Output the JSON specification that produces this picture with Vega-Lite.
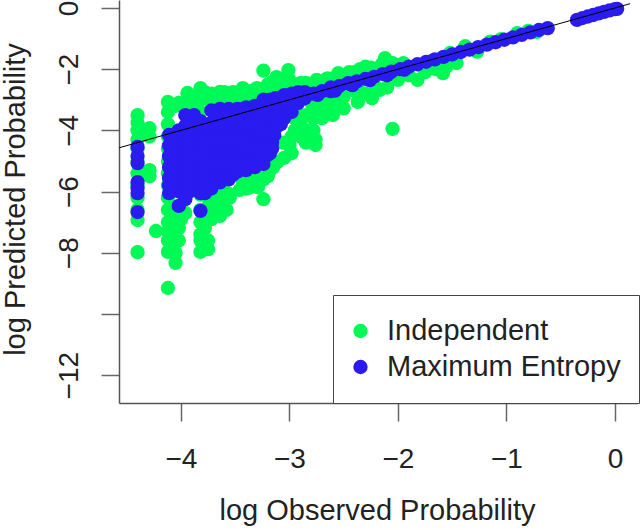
{"$schema":"https://vega.github.io/schema/vega-lite/v6.json","width":518,"height":403,"autosize":{"type":"none"},"padding":{"left":119,"top":0,"right":3,"bottom":127},"background":"white","view":{"stroke":null},"config":{"font":"Liberation Sans"},"layer":[{"data":{"values":[
{"s":"Independent","x":-4.4,"y":-3.5},{"s":"Independent","x":-4.4,"y":-3.75},{"s":"Independent","x":-4.4,"y":-4.0},{"s":"Independent","x":-4.4,"y":-4.3},{"s":"Independent","x":-4.4,"y":-4.6},{"s":"Independent","x":-4.4,"y":-5.0},{"s":"Independent","x":-4.4,"y":-5.4},{"s":"Independent","x":-4.4,"y":-5.8},{"s":"Independent","x":-4.4,"y":-6.2},{"s":"Independent","x":-4.4,"y":-6.6},{"s":"Independent","x":-4.4,"y":-6.93},{"s":"Independent","x":-4.4,"y":-7.98},
{"s":"Independent","x":-4.29,"y":-3.93},{"s":"Independent","x":-4.29,"y":-4.2},{"s":"Independent","x":-4.29,"y":-5.3},{"s":"Independent","x":-4.29,"y":-5.5},{"s":"Independent","x":-4.23,"y":-7.29},
{"s":"Independent","x":-4.12,"y":-3.07},{"s":"Independent","x":-4.12,"y":-3.4},{"s":"Independent","x":-4.12,"y":-3.8},{"s":"Independent","x":-4.12,"y":-4.2},{"s":"Independent","x":-4.12,"y":-4.6},{"s":"Independent","x":-4.12,"y":-5},{"s":"Independent","x":-4.12,"y":-5.4},{"s":"Independent","x":-4.12,"y":-5.8},{"s":"Independent","x":-4.12,"y":-6.2},{"s":"Independent","x":-4.12,"y":-6.6},{"s":"Independent","x":-4.12,"y":-7},{"s":"Independent","x":-4.12,"y":-7.3},{"s":"Independent","x":-4.12,"y":-7.6},{"s":"Independent","x":-4.12,"y":-7.97},{"s":"Independent","x":-4.12,"y":-9.15},
{"s":"Independent","x":-4.05,"y":-3.2},{"s":"Independent","x":-4.05,"y":-6.5},{"s":"Independent","x":-4.05,"y":-6.9},{"s":"Independent","x":-4.05,"y":-7.2},{"s":"Independent","x":-4.05,"y":-7.6},{"s":"Independent","x":-4.05,"y":-8.0},{"s":"Independent","x":-4.05,"y":-8.33},
{"s":"Independent","x":-4.02,"y":-3.1},{"s":"Independent","x":-4.02,"y":-6.7},{"s":"Independent","x":-4.02,"y":-7.2},{"s":"Independent","x":-4.02,"y":-7.6},
{"s":"Independent","x":-3.94,"y":-2.78},{"s":"Independent","x":-3.94,"y":-3.1},{"s":"Independent","x":-3.94,"y":-3.4},{"s":"Independent","x":-3.96,"y":-6.7},
{"s":"Independent","x":-3.82,"y":-2.62},{"s":"Independent","x":-3.82,"y":-3},{"s":"Independent","x":-3.82,"y":-3.4},{"s":"Independent","x":-3.82,"y":-6.1},{"s":"Independent","x":-3.82,"y":-6.6},{"s":"Independent","x":-3.82,"y":-7},{"s":"Independent","x":-3.82,"y":-7.4},{"s":"Independent","x":-3.82,"y":-7.6},{"s":"Independent","x":-3.82,"y":-7.97},
{"s":"Independent","x":-3.75,"y":-6.2},{"s":"Independent","x":-3.75,"y":-7.6},{"s":"Independent","x":-3.75,"y":-7.88},
{"s":"Independent","x":-3.72,"y":-2.8},{"s":"Independent","x":-3.72,"y":-3.1},{"s":"Independent","x":-3.72,"y":-6.4},{"s":"Independent","x":-3.72,"y":-6.9},
{"s":"Independent","x":-3.64,"y":-2.74},{"s":"Independent","x":-3.64,"y":-3.1},{"s":"Independent","x":-3.64,"y":-6.0},{"s":"Independent","x":-3.64,"y":-6.3},{"s":"Independent","x":-3.64,"y":-6.8},
{"s":"Independent","x":-3.58,"y":-6.6},{"s":"Independent","x":-3.57,"y":-6.05},{"s":"Independent","x":-3.56,"y":-2.8},{"s":"Independent","x":-3.56,"y":-3.1},
{"s":"Independent","x":-3.5,"y":-2.8},{"s":"Independent","x":-3.5,"y":-3.1},{"s":"Independent","x":-3.46,"y":-5.95},{"s":"Independent","x":-3.43,"y":-2.62},{"s":"Independent","x":-3.43,"y":-3.0},{"s":"Independent","x":-3.43,"y":-5.7},
{"s":"Independent","x":-3.37,"y":-2.8},{"s":"Independent","x":-3.37,"y":-3.0},{"s":"Independent","x":-3.37,"y":-5.87},{"s":"Independent","x":-3.3,"y":-2.62},{"s":"Independent","x":-3.3,"y":-2.9},{"s":"Independent","x":-3.3,"y":-5.5},{"s":"Independent","x":-3.29,"y":-5.85},
{"s":"Independent","x":-3.24,"y":-2.05},{"s":"Independent","x":-3.24,"y":-2.7},{"s":"Independent","x":-3.24,"y":-2.95},{"s":"Independent","x":-3.24,"y":-5.6},{"s":"Independent","x":-3.24,"y":-6.25},
{"s":"Independent","x":-3.18,"y":-2.6},{"s":"Independent","x":-3.18,"y":-2.8},{"s":"Independent","x":-3.18,"y":-5.3},{"s":"Independent","x":-3.12,"y":-2.26},{"s":"Independent","x":-3.12,"y":-2.5},{"s":"Independent","x":-3.12,"y":-2.8},{"s":"Independent","x":-3.11,"y":-5.03},
{"s":"Independent","x":-3.06,"y":-2.45},{"s":"Independent","x":-3.06,"y":-2.75},{"s":"Independent","x":-3.06,"y":-4.4},{"s":"Independent","x":-3.01,"y":-2.03},{"s":"Independent","x":-3.01,"y":-2.3},{"s":"Independent","x":-3.01,"y":-2.6},{"s":"Independent","x":-2.98,"y":-4.75},{"s":"Independent","x":-2.98,"y":-4.2},
{"s":"Independent","x":-2.9,"y":-2.46},{"s":"Independent","x":-2.9,"y":-4.2},{"s":"Independent","x":-2.9,"y":-3.8},{"s":"Independent","x":-2.85,"y":-4.4},{"s":"Independent","x":-2.8,"y":-3.1},{"s":"Independent","x":-2.78,"y":-4.0},{"s":"Independent","x":-2.78,"y":-3.6},{"s":"Independent","x":-2.78,"y":-2.5},{"s":"Independent","x":-2.76,"y":-4.48},{"s":"Independent","x":-2.76,"y":-4.3},{"s":"Independent","x":-2.75,"y":-2.35},
{"s":"Independent","x":-2.7,"y":-3.2},{"s":"Independent","x":-2.7,"y":-2.4},{"s":"Independent","x":-2.6,"y":-3.5},{"s":"Independent","x":-2.6,"y":-2.3},{"s":"Independent","x":-2.55,"y":-2.13},{"s":"Independent","x":-2.55,"y":-3.0},{"s":"Independent","x":-2.5,"y":-3.28},{"s":"Independent","x":-2.5,"y":-2.9},{"s":"Independent","x":-2.5,"y":-2.2},{"s":"Independent","x":-2.4,"y":-2.1},{"s":"Independent","x":-2.37,"y":-3.07},{"s":"Independent","x":-2.3,"y":-1.92},{"s":"Independent","x":-2.3,"y":-2.8},{"s":"Independent","x":-2.24,"y":-2.95},{"s":"Independent","x":-2.2,"y":-2.0},{"s":"Independent","x":-2.17,"y":-2.68},{"s":"Independent","x":-2.12,"y":-1.64},{"s":"Independent","x":-2.1,"y":-2.6},{"s":"Independent","x":-2.05,"y":-1.8},{"s":"Independent","x":-2.05,"y":-3.95},{"s":"Independent","x":-2.0,"y":-2.0},{"s":"Independent","x":-2.0,"y":-2.35},{"s":"Independent","x":-1.95,"y":-1.8},{"s":"Independent","x":-1.9,"y":-2.2},{"s":"Independent","x":-1.82,"y":-2.35},{"s":"Independent","x":-1.75,"y":-2.1},{"s":"Independent","x":-1.7,"y":-1.75},{"s":"Independent","x":-1.65,"y":-2.0},{"s":"Independent","x":-1.6,"y":-1.65},{"s":"Independent","x":-1.585,"y":-2.13},{"s":"Independent","x":-1.55,"y":-1.9},{"s":"Independent","x":-1.52,"y":-1.47},{"s":"Independent","x":-1.49,"y":-1.7},{"s":"Independent","x":-1.46,"y":-1.8},{"s":"Independent","x":-1.38,"y":-1.25},{"s":"Independent","x":-1.27,"y":-1.31},{"s":"Independent","x":-1.27,"y":-1.43},{"s":"Independent","x":-1.15,"y":-1.1},{"s":"Independent","x":-1.05,"y":-1.02},{"s":"Independent","x":-0.9,"y":-0.82},{"s":"Independent","x":-0.8,"y":-0.75},{"s":"Independent","x":-0.72,"y":-0.78},
{"s":"Independent","x":-2.95,"y":-3.6},{"s":"Independent","x":-2.85,"y":-3.5},{"s":"Independent","x":-2.85,"y":-4.0},{"s":"Independent","x":-2.9,"y":-3.5},{"s":"Independent","x":-2.7,"y":-3.6},{"s":"Independent","x":-2.65,"y":-3.3},{"s":"Independent","x":-2.75,"y":-3.4},{"s":"Independent","x":-2.45,"y":-2.6},{"s":"Independent","x":-2.4,"y":-2.7},{"s":"Independent","x":-2.65,"y":-2.9},{"s":"Independent","x":-2.6,"y":-3.1},{"s":"Independent","x":-2.35,"y":-2.75},{"s":"Independent","x":-2.2,"y":-2.6},{"s":"Independent","x":-2.0,"y":-2.25},
{"s":"Independent","x":-3.9,"y":-2.9},{"s":"Independent","x":-3.85,"y":-3.1},{"s":"Independent","x":-3.78,"y":-2.75},{"s":"Independent","x":-3.68,"y":-2.85},{"s":"Independent","x":-3.6,"y":-2.75},{"s":"Independent","x":-3.52,"y":-2.75},{"s":"Independent","x":-3.46,"y":-2.75},{"s":"Independent","x":-3.34,"y":-2.7},{"s":"Independent","x":-3.2,"y":-2.5},{"s":"Independent","x":-3.15,"y":-2.4},{"s":"Independent","x":-3.1,"y":-2.3},{"s":"Independent","x":-3.0,"y":-2.4},{"s":"Independent","x":-2.95,"y":-2.5},{"s":"Independent","x":-2.85,"y":-2.45},{"s":"Independent","x":-2.65,"y":-2.3},{"s":"Independent","x":-2.45,"y":-2.1},{"s":"Independent","x":-2.35,"y":-2.0},{"s":"Independent","x":-2.25,"y":-1.95},{"s":"Independent","x":-2.15,"y":-1.85},
{"s":"Independent","x":-4.08,"y":-7.0},{"s":"Independent","x":-4.08,"y":-7.4},{"s":"Independent","x":-4.08,"y":-7.8},{"s":"Independent","x":-4.0,"y":-6.9},{"s":"Independent","x":-3.78,"y":-7.2},{"s":"Independent","x":-3.78,"y":-6.8},{"s":"Independent","x":-3.75,"y":-6.5},{"s":"Independent","x":-3.68,"y":-6.6},{"s":"Independent","x":-3.55,"y":-6.2},{"s":"Independent","x":-3.4,"y":-5.9},{"s":"Independent","x":-3.35,"y":-5.6},{"s":"Independent","x":-3.2,"y":-5.5},{"s":"Independent","x":-3.15,"y":-5.2},{"s":"Independent","x":-3.05,"y":-4.9},{"s":"Independent","x":-3.0,"y":-4.5},{"s":"Independent","x":-2.95,"y":-4.0},{"s":"Independent","x":-3.7,"y":-6.2},{"s":"Independent","x":-3.6,"y":-6.3},
{"s":"Maximum Entropy","x":-4.4,"y":-4.54},{"s":"Maximum Entropy","x":-4.4,"y":-4.84},{"s":"Maximum Entropy","x":-4.4,"y":-5.07},{"s":"Maximum Entropy","x":-4.4,"y":-5.69},{"s":"Maximum Entropy","x":-4.4,"y":-5.88},{"s":"Maximum Entropy","x":-4.4,"y":-6.05},{"s":"Maximum Entropy","x":-4.4,"y":-6.67},
{"s":"Maximum Entropy","x":-4.11,"y":-4.15},{"s":"Maximum Entropy","x":-4.11,"y":-4.5},{"s":"Maximum Entropy","x":-4.11,"y":-4.85},{"s":"Maximum Entropy","x":-4.11,"y":-5.2},{"s":"Maximum Entropy","x":-4.11,"y":-5.55},{"s":"Maximum Entropy","x":-4.11,"y":-5.8},{"s":"Maximum Entropy","x":-4.11,"y":-6.05},
{"s":"Maximum Entropy","x":-4.02,"y":-4.0},{"s":"Maximum Entropy","x":-4.02,"y":-4.4},{"s":"Maximum Entropy","x":-4.02,"y":-4.8},{"s":"Maximum Entropy","x":-4.02,"y":-5.2},{"s":"Maximum Entropy","x":-4.02,"y":-5.6},{"s":"Maximum Entropy","x":-4.02,"y":-6.0},{"s":"Maximum Entropy","x":-4.02,"y":-6.47},
{"s":"Maximum Entropy","x":-3.96,"y":-3.5},{"s":"Maximum Entropy","x":-3.96,"y":-3.85},{"s":"Maximum Entropy","x":-3.96,"y":-4.2},{"s":"Maximum Entropy","x":-3.96,"y":-4.6},{"s":"Maximum Entropy","x":-3.96,"y":-5.0},{"s":"Maximum Entropy","x":-3.96,"y":-5.4},{"s":"Maximum Entropy","x":-3.96,"y":-5.8},{"s":"Maximum Entropy","x":-3.96,"y":-6.25},
{"s":"Maximum Entropy","x":-3.88,"y":-3.5},{"s":"Maximum Entropy","x":-3.88,"y":-3.9},{"s":"Maximum Entropy","x":-3.88,"y":-4.3},{"s":"Maximum Entropy","x":-3.88,"y":-4.7},{"s":"Maximum Entropy","x":-3.88,"y":-5.1},{"s":"Maximum Entropy","x":-3.88,"y":-5.5},{"s":"Maximum Entropy","x":-3.88,"y":-5.9},
{"s":"Maximum Entropy","x":-3.82,"y":-3.7},{"s":"Maximum Entropy","x":-3.82,"y":-4.1},{"s":"Maximum Entropy","x":-3.82,"y":-4.5},{"s":"Maximum Entropy","x":-3.82,"y":-4.9},{"s":"Maximum Entropy","x":-3.82,"y":-5.3},{"s":"Maximum Entropy","x":-3.82,"y":-5.7},{"s":"Maximum Entropy","x":-3.82,"y":-6.05},{"s":"Maximum Entropy","x":-3.82,"y":-6.63},
{"s":"Maximum Entropy","x":-3.78,"y":-6.05},{"s":"Maximum Entropy","x":-3.72,"y":-3.35},{"s":"Maximum Entropy","x":-3.72,"y":-3.75},{"s":"Maximum Entropy","x":-3.72,"y":-4.15},{"s":"Maximum Entropy","x":-3.72,"y":-4.55},{"s":"Maximum Entropy","x":-3.72,"y":-4.95},{"s":"Maximum Entropy","x":-3.72,"y":-5.35},{"s":"Maximum Entropy","x":-3.72,"y":-5.7},{"s":"Maximum Entropy","x":-3.72,"y":-5.9},
{"s":"Maximum Entropy","x":-3.64,"y":-3.3},{"s":"Maximum Entropy","x":-3.64,"y":-3.7},{"s":"Maximum Entropy","x":-3.64,"y":-4.1},{"s":"Maximum Entropy","x":-3.64,"y":-4.5},{"s":"Maximum Entropy","x":-3.64,"y":-4.9},{"s":"Maximum Entropy","x":-3.64,"y":-5.3},{"s":"Maximum Entropy","x":-3.64,"y":-5.7},
{"s":"Maximum Entropy","x":-3.56,"y":-3.3},{"s":"Maximum Entropy","x":-3.56,"y":-3.7},{"s":"Maximum Entropy","x":-3.56,"y":-4.1},{"s":"Maximum Entropy","x":-3.56,"y":-4.5},{"s":"Maximum Entropy","x":-3.56,"y":-4.9},{"s":"Maximum Entropy","x":-3.56,"y":-5.3},{"s":"Maximum Entropy","x":-3.56,"y":-5.6},
{"s":"Maximum Entropy","x":-3.48,"y":-3.3},{"s":"Maximum Entropy","x":-3.48,"y":-3.7},{"s":"Maximum Entropy","x":-3.48,"y":-4.1},{"s":"Maximum Entropy","x":-3.48,"y":-4.5},{"s":"Maximum Entropy","x":-3.48,"y":-4.9},{"s":"Maximum Entropy","x":-3.48,"y":-5.35},
{"s":"Maximum Entropy","x":-3.4,"y":-3.25},{"s":"Maximum Entropy","x":-3.4,"y":-3.65},{"s":"Maximum Entropy","x":-3.4,"y":-4.05},{"s":"Maximum Entropy","x":-3.4,"y":-4.45},{"s":"Maximum Entropy","x":-3.4,"y":-4.85},{"s":"Maximum Entropy","x":-3.4,"y":-5.3},
{"s":"Maximum Entropy","x":-3.32,"y":-3.2},{"s":"Maximum Entropy","x":-3.32,"y":-3.6},{"s":"Maximum Entropy","x":-3.32,"y":-4.0},{"s":"Maximum Entropy","x":-3.32,"y":-4.4},{"s":"Maximum Entropy","x":-3.32,"y":-4.8},{"s":"Maximum Entropy","x":-3.32,"y":-5.2},
{"s":"Maximum Entropy","x":-3.24,"y":-3.0},{"s":"Maximum Entropy","x":-3.24,"y":-3.4},{"s":"Maximum Entropy","x":-3.24,"y":-3.8},{"s":"Maximum Entropy","x":-3.24,"y":-4.2},{"s":"Maximum Entropy","x":-3.24,"y":-4.6},{"s":"Maximum Entropy","x":-3.24,"y":-5.1},
{"s":"Maximum Entropy","x":-3.18,"y":-3.0},{"s":"Maximum Entropy","x":-3.18,"y":-3.4},{"s":"Maximum Entropy","x":-3.18,"y":-3.8},{"s":"Maximum Entropy","x":-3.18,"y":-4.2},{"s":"Maximum Entropy","x":-3.18,"y":-4.75},
{"s":"Maximum Entropy","x":-3.13,"y":-2.95},{"s":"Maximum Entropy","x":-3.13,"y":-3.4},{"s":"Maximum Entropy","x":-3.13,"y":-3.92},{"s":"Maximum Entropy","x":-3.05,"y":-2.85},{"s":"Maximum Entropy","x":-3.05,"y":-3.2},{"s":"Maximum Entropy","x":-3.05,"y":-3.6},{"s":"Maximum Entropy","x":-2.98,"y":-2.8},{"s":"Maximum Entropy","x":-2.98,"y":-3.1},{"s":"Maximum Entropy","x":-2.98,"y":-3.4},{"s":"Maximum Entropy","x":-2.92,"y":-2.75},{"s":"Maximum Entropy","x":-2.92,"y":-3.1},{"s":"Maximum Entropy","x":-2.86,"y":-2.75},{"s":"Maximum Entropy","x":-2.86,"y":-2.95},
{"s":"Maximum Entropy","x":-3.92,"y":-3.7},{"s":"Maximum Entropy","x":-3.92,"y":-4.05},{"s":"Maximum Entropy","x":-3.92,"y":-4.4},{"s":"Maximum Entropy","x":-3.92,"y":-4.8},{"s":"Maximum Entropy","x":-3.92,"y":-5.2},{"s":"Maximum Entropy","x":-3.92,"y":-5.6},{"s":"Maximum Entropy","x":-3.92,"y":-6.0},{"s":"Maximum Entropy","x":-4.07,"y":-4.3},{"s":"Maximum Entropy","x":-4.07,"y":-4.65},{"s":"Maximum Entropy","x":-4.07,"y":-5.0},{"s":"Maximum Entropy","x":-4.07,"y":-5.4},{"s":"Maximum Entropy","x":-4.07,"y":-5.8},
{"s":"Maximum Entropy","x":-3.77,"y":-3.9},{"s":"Maximum Entropy","x":-3.77,"y":-4.3},{"s":"Maximum Entropy","x":-3.77,"y":-4.7},{"s":"Maximum Entropy","x":-3.77,"y":-5.1},{"s":"Maximum Entropy","x":-3.77,"y":-5.5},{"s":"Maximum Entropy","x":-3.77,"y":-5.85},
{"s":"Maximum Entropy","x":-3.68,"y":-3.55},{"s":"Maximum Entropy","x":-3.68,"y":-3.9},{"s":"Maximum Entropy","x":-3.68,"y":-4.3},{"s":"Maximum Entropy","x":-3.68,"y":-4.7},{"s":"Maximum Entropy","x":-3.68,"y":-5.1},{"s":"Maximum Entropy","x":-3.68,"y":-5.5},
{"s":"Maximum Entropy","x":-3.6,"y":-3.5},{"s":"Maximum Entropy","x":-3.6,"y":-3.9},{"s":"Maximum Entropy","x":-3.6,"y":-4.3},{"s":"Maximum Entropy","x":-3.6,"y":-4.7},{"s":"Maximum Entropy","x":-3.6,"y":-5.1},{"s":"Maximum Entropy","x":-3.6,"y":-5.5},
{"s":"Maximum Entropy","x":-3.52,"y":-3.5},{"s":"Maximum Entropy","x":-3.52,"y":-3.9},{"s":"Maximum Entropy","x":-3.52,"y":-4.3},{"s":"Maximum Entropy","x":-3.52,"y":-4.7},{"s":"Maximum Entropy","x":-3.52,"y":-5.1},{"s":"Maximum Entropy","x":-3.52,"y":-5.45},
{"s":"Maximum Entropy","x":-3.44,"y":-3.5},{"s":"Maximum Entropy","x":-3.44,"y":-3.9},{"s":"Maximum Entropy","x":-3.44,"y":-4.3},{"s":"Maximum Entropy","x":-3.44,"y":-4.7},{"s":"Maximum Entropy","x":-3.44,"y":-5.1},
{"s":"Maximum Entropy","x":-3.36,"y":-3.45},{"s":"Maximum Entropy","x":-3.36,"y":-3.85},{"s":"Maximum Entropy","x":-3.36,"y":-4.25},{"s":"Maximum Entropy","x":-3.36,"y":-4.65},{"s":"Maximum Entropy","x":-3.36,"y":-5.05},
{"s":"Maximum Entropy","x":-3.28,"y":-3.4},{"s":"Maximum Entropy","x":-3.28,"y":-3.8},{"s":"Maximum Entropy","x":-3.28,"y":-4.2},{"s":"Maximum Entropy","x":-3.28,"y":-4.6},{"s":"Maximum Entropy","x":-3.28,"y":-5.0},
{"s":"Maximum Entropy","x":-3.2,"y":-3.2},{"s":"Maximum Entropy","x":-3.2,"y":-3.6},{"s":"Maximum Entropy","x":-3.2,"y":-4.0},{"s":"Maximum Entropy","x":-3.2,"y":-4.4},{"s":"Maximum Entropy","x":-3.2,"y":-4.8},{"s":"Maximum Entropy","x":-3.16,"y":-4.4},{"s":"Maximum Entropy","x":-3.16,"y":-4.6},{"s":"Maximum Entropy","x":-3.14,"y":-3.1},{"s":"Maximum Entropy","x":-3.14,"y":-3.65},{"s":"Maximum Entropy","x":-3.14,"y":-4.15},{"s":"Maximum Entropy","x":-3.08,"y":-3.0},{"s":"Maximum Entropy","x":-3.08,"y":-3.4},{"s":"Maximum Entropy","x":-3.08,"y":-3.8},
{"s":"Maximum Entropy","x":-2.78,"y":-2.8},{"s":"Maximum Entropy","x":-2.7,"y":-2.72},{"s":"Maximum Entropy","x":-2.62,"y":-2.6},{"s":"Maximum Entropy","x":-2.62,"y":-2.72},{"s":"Maximum Entropy","x":-2.54,"y":-2.55},{"s":"Maximum Entropy","x":-2.46,"y":-2.46},{"s":"Maximum Entropy","x":-2.38,"y":-2.4},{"s":"Maximum Entropy","x":-2.3,"y":-2.32},{"s":"Maximum Entropy","x":-2.22,"y":-2.25},{"s":"Maximum Entropy","x":-2.14,"y":-2.16},{"s":"Maximum Entropy","x":-2.06,"y":-2.08},{"s":"Maximum Entropy","x":-1.98,"y":-2.0},{"s":"Maximum Entropy","x":-1.9,"y":-1.92},{"s":"Maximum Entropy","x":-1.82,"y":-1.84},{"s":"Maximum Entropy","x":-1.74,"y":-1.76},{"s":"Maximum Entropy","x":-1.66,"y":-1.68},{"s":"Maximum Entropy","x":-1.58,"y":-1.6},{"s":"Maximum Entropy","x":-1.5,"y":-1.52},{"s":"Maximum Entropy","x":-1.42,"y":-1.44},{"s":"Maximum Entropy","x":-1.34,"y":-1.36},{"s":"Maximum Entropy","x":-1.26,"y":-1.28},{"s":"Maximum Entropy","x":-1.18,"y":-1.2},{"s":"Maximum Entropy","x":-1.1,"y":-1.12},{"s":"Maximum Entropy","x":-1.02,"y":-1.04},{"s":"Maximum Entropy","x":-0.94,"y":-0.96},{"s":"Maximum Entropy","x":-0.86,"y":-0.88},{"s":"Maximum Entropy","x":-0.78,"y":-0.8},{"s":"Maximum Entropy","x":-0.7,"y":-0.72},{"s":"Maximum Entropy","x":-0.62,"y":-0.66},
{"s":"Maximum Entropy","x":-2.74,"y":-2.84},{"s":"Maximum Entropy","x":-2.58,"y":-2.7},{"s":"Maximum Entropy","x":-2.42,"y":-2.52},{"s":"Maximum Entropy","x":-2.26,"y":-2.36},{"s":"Maximum Entropy","x":-2.1,"y":-2.2},{"s":"Maximum Entropy","x":-1.94,"y":-2.02},
{"s":"Maximum Entropy","x":-0.35,"y":-0.39},{"s":"Maximum Entropy","x":-0.3,"y":-0.33},{"s":"Maximum Entropy","x":-0.25,"y":-0.28},{"s":"Maximum Entropy","x":-0.2,"y":-0.23},{"s":"Maximum Entropy","x":-0.15,"y":-0.18},{"s":"Maximum Entropy","x":-0.1,"y":-0.13},{"s":"Maximum Entropy","x":-0.05,"y":-0.08},{"s":"Maximum Entropy","x":0.0,"y":-0.04},{"s":"Maximum Entropy","x":0.02,"y":-0.03}
]},"mark":{"type":"point","filled":true,"opacity":1,"size":205},"encoding":{"x":{"field":"x","type":"quantitative","scale":{"domain":[-4.571,0.203],"nice":false,"zero":false},"axis":{"values":[-4,-3,-2,-1,0],"format":"d","grid":false,"title":"log Observed Probability","titleFontSize":29,"titleFontWeight":"normal","titleColor":"#222","titleX":258,"titleY":116,"titleBaseline":"alphabetic","labelFontSize":28,"labelColor":"#222","labelPadding":24,"tickSize":18,"tickWidth":1.5,"tickColor":"#666","domainColor":"#555","domainWidth":1.5,"labelFlush":false}},"y":{"field":"y","type":"quantitative","scale":{"domain":[-12.91,0.26],"nice":false,"zero":false},"axis":{"values":[0,-2,-4,-6,-8,-10,-12],"labelExpr":"datum.value==-10?'':datum.label","labelOverlap":false,"format":"d","grid":false,"title":"log Predicted Probability","titleFontSize":29,"titleFontWeight":"normal","titleColor":"#222","titleX":-95,"titleY":199,"titleBaseline":"alphabetic","labelFontSize":28,"labelColor":"#222","labelAngle":-90,"labelAlign":"center","labelBaseline":"alphabetic","labelPadding":24,"tickSize":18,"tickWidth":1.5,"tickColor":"#666","domainColor":"#555","domainWidth":1.5}},"color":{"field":"s","type":"nominal","scale":{"domain":["Independent","Maximum Entropy"],"range":["#00FA55","#2A1CF0"]},"legend":{"title":null,"orient":"none","legendX":214,"legendY":295,"padding":18,"fillColor":"white","strokeColor":"#444","labelFontSize":29,"labelColor":"#222","labelLimit":400,"symbolSize":205,"symbolType":"circle","symbolOpacity":1,"symbolOffset":-5,"labelOffset":12,"clipHeight":36,"rowPadding":0,"cornerRadius":0}}}},{"data":{"values":[{"x":-4.57,"y":-4.57},{"x":0.14,"y":0.14}]},"mark":{"type":"line","color":"black","strokeWidth":1,"clip":true},"encoding":{"x":{"field":"x","type":"quantitative"},"y":{"field":"y","type":"quantitative"}}}]}
